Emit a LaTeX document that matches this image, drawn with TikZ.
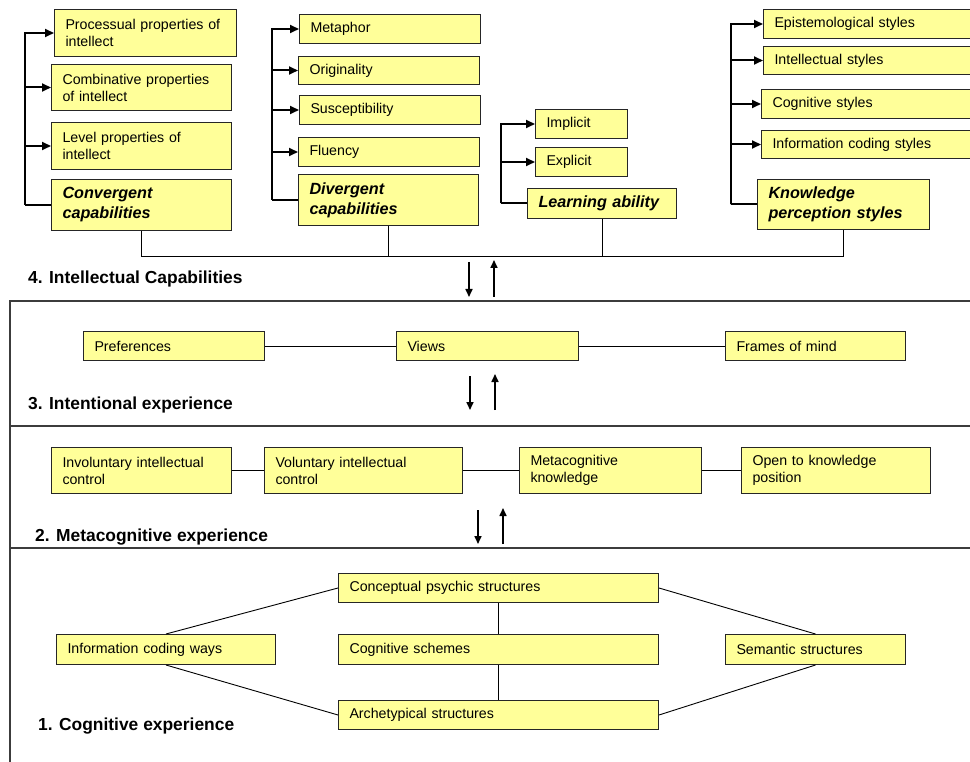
\documentclass[tikz,border=0pt]{standalone}
\usepackage{fontspec}
\setmainfont{Liberation Sans}
\usepackage{tikz}
\usetikzlibrary{arrows.meta}
\definecolor{boxyellow}{RGB}{255,255,153}
\definecolor{framegray}{RGB}{60,60,60}
\tikzstyle{item}=[draw=black!85,fill=boxyellow,line width=1pt,anchor=north west,inner xsep=11pt,inner ysep=0pt,align=left,font=\fontsize{14.2}{17}\selectfont]
\tikzstyle{main item}=[item,font=\fontsize{16.2}{20}\selectfont\bfseries\itshape]
\tikzstyle{level}=[anchor=base west,inner sep=0pt,font=\fontsize{17.4}{20}\selectfont\bfseries]
\tikzstyle{link}=[draw,line width=0.9pt]
\tikzstyle{spine}=[draw,line width=2pt]
\tikzstyle{bracket}=[spine,-{Triangle[length=9pt,width=8pt]}]
\tikzstyle{flow}=[draw,line width=1.6pt,-{Triangle[length=8pt,width=7pt]}]
\tikzstyle{divider}=[draw=framegray,line width=1.6pt]

\begin{document}
\begin{tikzpicture}[x=1pt,y=-1pt]
    \useasboundingbox (0,0) rectangle (970,762);
    % boxes: name/x/y/width/height/text
    \foreach \name/\x/\y/\w/\h/\txt in {
        proc/54/9/182/47/{Processual properties of\\intellect},
        comb/51/64/180/46/{Combinative properties\\of intellect},
        lev/51/122/180/47/{Level properties of\\intellect},
        meta/299/14/181/29/{Metaphor},
        orig/298/56/181/28/{Originality},
        susc/299/95/181/29/{Susceptibility},
        flu/298/137/181/29/{Fluency},
        impl/535/109/92/29/{Implicit},
        expl/535/147/92/29/{Explicit},
        epis/763/9/208/29/{Epistemological styles},
        intel/763/46/208/28/{Intellectual styles},
        cogs/761/89/210/29/{Cognitive styles},
        infos/761/130/210/28/{Information coding styles},
        pref/83/331/181/29/{Preferences},
        views/396/331/182/29/{Views},
        frames/725/331/180/29/{Frames of mind},
        invol/51/447/180/46/{Involuntary intellectual\\control},
        vol/264/447/198/46/{Voluntary intellectual\\control},
        mcog/519/447/182/46/{Metacognitive\\knowledge},
        open/741/447/189/46/{Open to knowledge\\position},
        conc/338/573/320/29/{Conceptual psychic structures},
        info/56/634/219/30/{Information coding ways},
        schem/338/634/320/30/{Cognitive schemes},
        arch/338/700/320/29/{Archetypical structures},
        sem/725/634/180/30/{Semantic structures}}
    {
        \pgfmathsetmacro\tw{\w-22}
        \node[item,text width=\tw pt,minimum height=\h pt] (\name) at (\x,\y) {\txt};
    }
    \foreach \name/\x/\y/\w/\h/\txt in {
        conv/51/179/180/51/{Convergent\\capabilities},
        div/298/174/180/51/{Divergent\\capabilities},
        learn/527/188/149/30/{Learning ability},
        know/757/179/172/50/{Knowledge\\perception styles}}
    {
        \pgfmathsetmacro\tw{\w-22}
        \node[main item,text width=\tw pt,minimum height=\h pt] (\name) at (\x,\y) {\txt};
    }

    % brackets
    \foreach \base/\kids in {conv/{proc,comb,lev}, div/{meta,orig,susc,flu},
                             learn/{impl,expl}, know/{epis,intel,cogs,infos}} {
        \path[spine] (\base.west) -- ++(-26,0) coordinate (spine-\base);
        \foreach \kid in \kids
            \path[bracket] (spine-\base) |- (\kid.west);
    }
    \path[link] (conv.south) -- ++(0,25) coordinate (bus) -| (know.south);
    \foreach \n in {div,learn}
        \path[link] (\n.south) -- (\n.south |- bus);

    % levels
    \draw[divider] (970,301) -- (10,301) -- (10,762);
    \draw[divider] (10,426) -- (970,426);
    \draw[divider] (10,548) -- (970,548);
    \foreach \name/\pos/\txt in {lab4/{(28,284)}/{4. Intellectual Capabilities},
                                 lab3/{(28,409)}/{3. Intentional experience},
                                 lab2/{(35,541)}/{2. Metacognitive experience},
                                 lab1/{(38,730)}/{1. Cognitive experience}}
        \node[level] (\name) at \pos {\txt};
    \foreach \x/\ya/\yb [count=\i] in {469/262/297, 470/376/410, 478/510/544} {
        \coordinate (dn\i) at (\x,\ya);
        \coordinate (dn\i') at (\x,\yb);
        \coordinate (up\i) at (\x+25,\yb);
        \coordinate (up\i') at (\x+25,\ya-2);
        \path[flow] (dn\i) -- (dn\i');
        \path[flow] (up\i) -- (up\i');
    }

    % links
    \foreach \a/\b in {pref.east/views.west, views.east/frames.west,
                       invol.east/vol.west, vol.east/mcog.west, mcog.east/open.west,
                       info.north/conc.west, info.south/arch.west,
                       conc.east/sem.north, arch.east/sem.south,
                       conc.south/schem.north, schem.south/arch.north}
        \path[link] (\a) -- (\b);
\end{tikzpicture}
\end{document}
